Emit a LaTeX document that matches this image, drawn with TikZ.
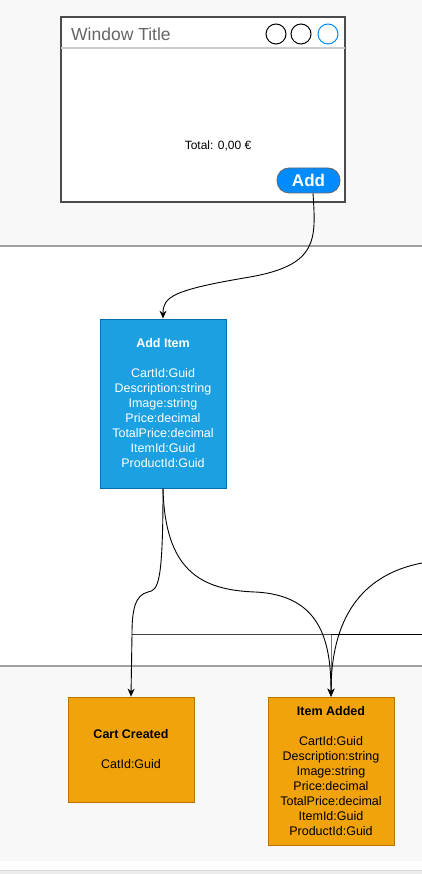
\documentclass[tikz,border=0pt]{standalone}
\usepackage{fontspec}
\setmainfont{Liberation Sans}
\usetikzlibrary{arrows.meta}
\definecolor{lanebg}{HTML}{F8F8F8}
\definecolor{laneline}{HTML}{A0A0A0}
\definecolor{blueFill}{HTML}{1BA1E2}
\definecolor{blueLine}{HTML}{006EAF}
\definecolor{orFill}{HTML}{F0A30A}
\definecolor{orLine}{HTML}{BD7000}
\definecolor{btnBlue}{HTML}{008CFF}
\definecolor{titleGray}{HTML}{666666}
\tikzset{
  cmdbox/.style={draw=blueLine, fill=blueFill, text=white, line width=0.8pt, minimum width=126pt, minimum height=169pt, align=center, inner sep=0pt, font=\fontsize{12.5}{15}\selectfont},
  evtbox/.style={draw=orLine, fill=orFill, text=black, line width=0.8pt, minimum width=126pt, align=center, inner sep=0pt, font=\fontsize{12.5}{15}\selectfont},
  conn/.style={draw=black, line width=0.9pt, -{Stealth[length=8pt,width=7pt]}},
  plainconn/.style={draw=black, line width=0.9pt},
  winbtn/.style={circle, draw, line width=1pt, minimum size=20pt, inner sep=0pt}
}
\begin{document}
\begin{tikzpicture}[x=1pt,y=-1pt]
\useasboundingbox (0,0) rectangle (422,874);
% lanes
\fill[white] (0,0) rectangle (422,874);
\fill[lanebg] (0,0) rectangle (422,246);
\draw[laneline, line width=1.5pt] (0,246) -- (422,246);
\fill[lanebg] (0,666) rectangle (422,861);
\draw[laneline, line width=1.5pt] (0,666) -- (422,666);
\fill[lanebg!95!black] (0,870) rectangle (422,874);
\draw[black!15, line width=1.5pt] (0,870.5) -- (422,870.5);
% window
\draw[fill=white, draw=black!70, line width=1.2pt] (61,17) rectangle (345,202);
\draw[black!20, line width=1.2pt] (61,48) -- (345,48);
\node[anchor=west, text=titleGray, font=\fontsize{17.5}{20}\selectfont, inner sep=0pt] (wtitle) at (71,34) {Window Title};
\node[winbtn, draw=black] (c1) at (276,34) {};
\node[winbtn, draw=black] (c2) at (301,34) {};
\node[winbtn, draw=btnBlue] (c3) at (328,34) {};
\node[font=\fontsize{12}{14}\selectfont, inner sep=0pt] (total) at (218,146) {Total: 0,00 €};
\node[draw=black!60, fill=btnBlue, rounded corners=12pt, minimum width=63pt, minimum height=25pt, inner sep=0pt, text=white, font=\bfseries\fontsize{17}{20}\selectfont, line width=0.8pt] (btn) at (308.5,180.5) {Add};
% command
\node[cmdbox] (additem) at (163,403.5) {\textbf{Add Item}\\[15pt]CartId:Guid\\Description:string\\Image:string\\Price:decimal\\TotalPrice:decimal\\ItemId:Guid\\ProductId:Guid};
% events
\node[evtbox, minimum height=105pt] (cart) at (131,749.5) {\textbf{Cart Created}\\[15pt]CatId:Guid};
\node[evtbox, minimum height=148pt] (itemadded) at (331,771) {\textbf{Item Added}\\[15pt]CartId:Guid\\Description:string\\Image:string\\Price:decimal\\TotalPrice:decimal\\ItemId:Guid\\ProductId:Guid};
% free ends
\coordinate (r1) at (422,563);
\coordinate (r2) at (422,634);
\coordinate (j1) at (331,634);
\coordinate (j2) at (132,634);
% connectors
\draw[conn, draw=black!55, line width=0.8pt] (r2) -- (j1) -- (itemadded.north);
\draw[plainconn, draw=black!75, line width=0.8pt] (j1) -- (j2);
\draw[plainconn, line width=0.8pt] (r2) -- (j1);
\draw[conn] ([xshift=4.5pt]btn.south) .. controls (316,240) and (318,265) .. (250,277) .. controls (172,290) and (163,297) .. (additem.north);
\draw[conn] (additem.south) .. controls (163,585) and (158,590) .. (148,592) .. controls (135,595) and (132,610) .. (j2) -- (cart.north);
\draw[conn] (additem.south) .. controls (165,570) and (200,590) .. (255,592) .. controls (320,595) and (331,640) .. (itemadded.north);
\draw[conn] (r1) .. controls (360,575) and (331,620) .. (itemadded.north);
\end{tikzpicture}
\end{document}
